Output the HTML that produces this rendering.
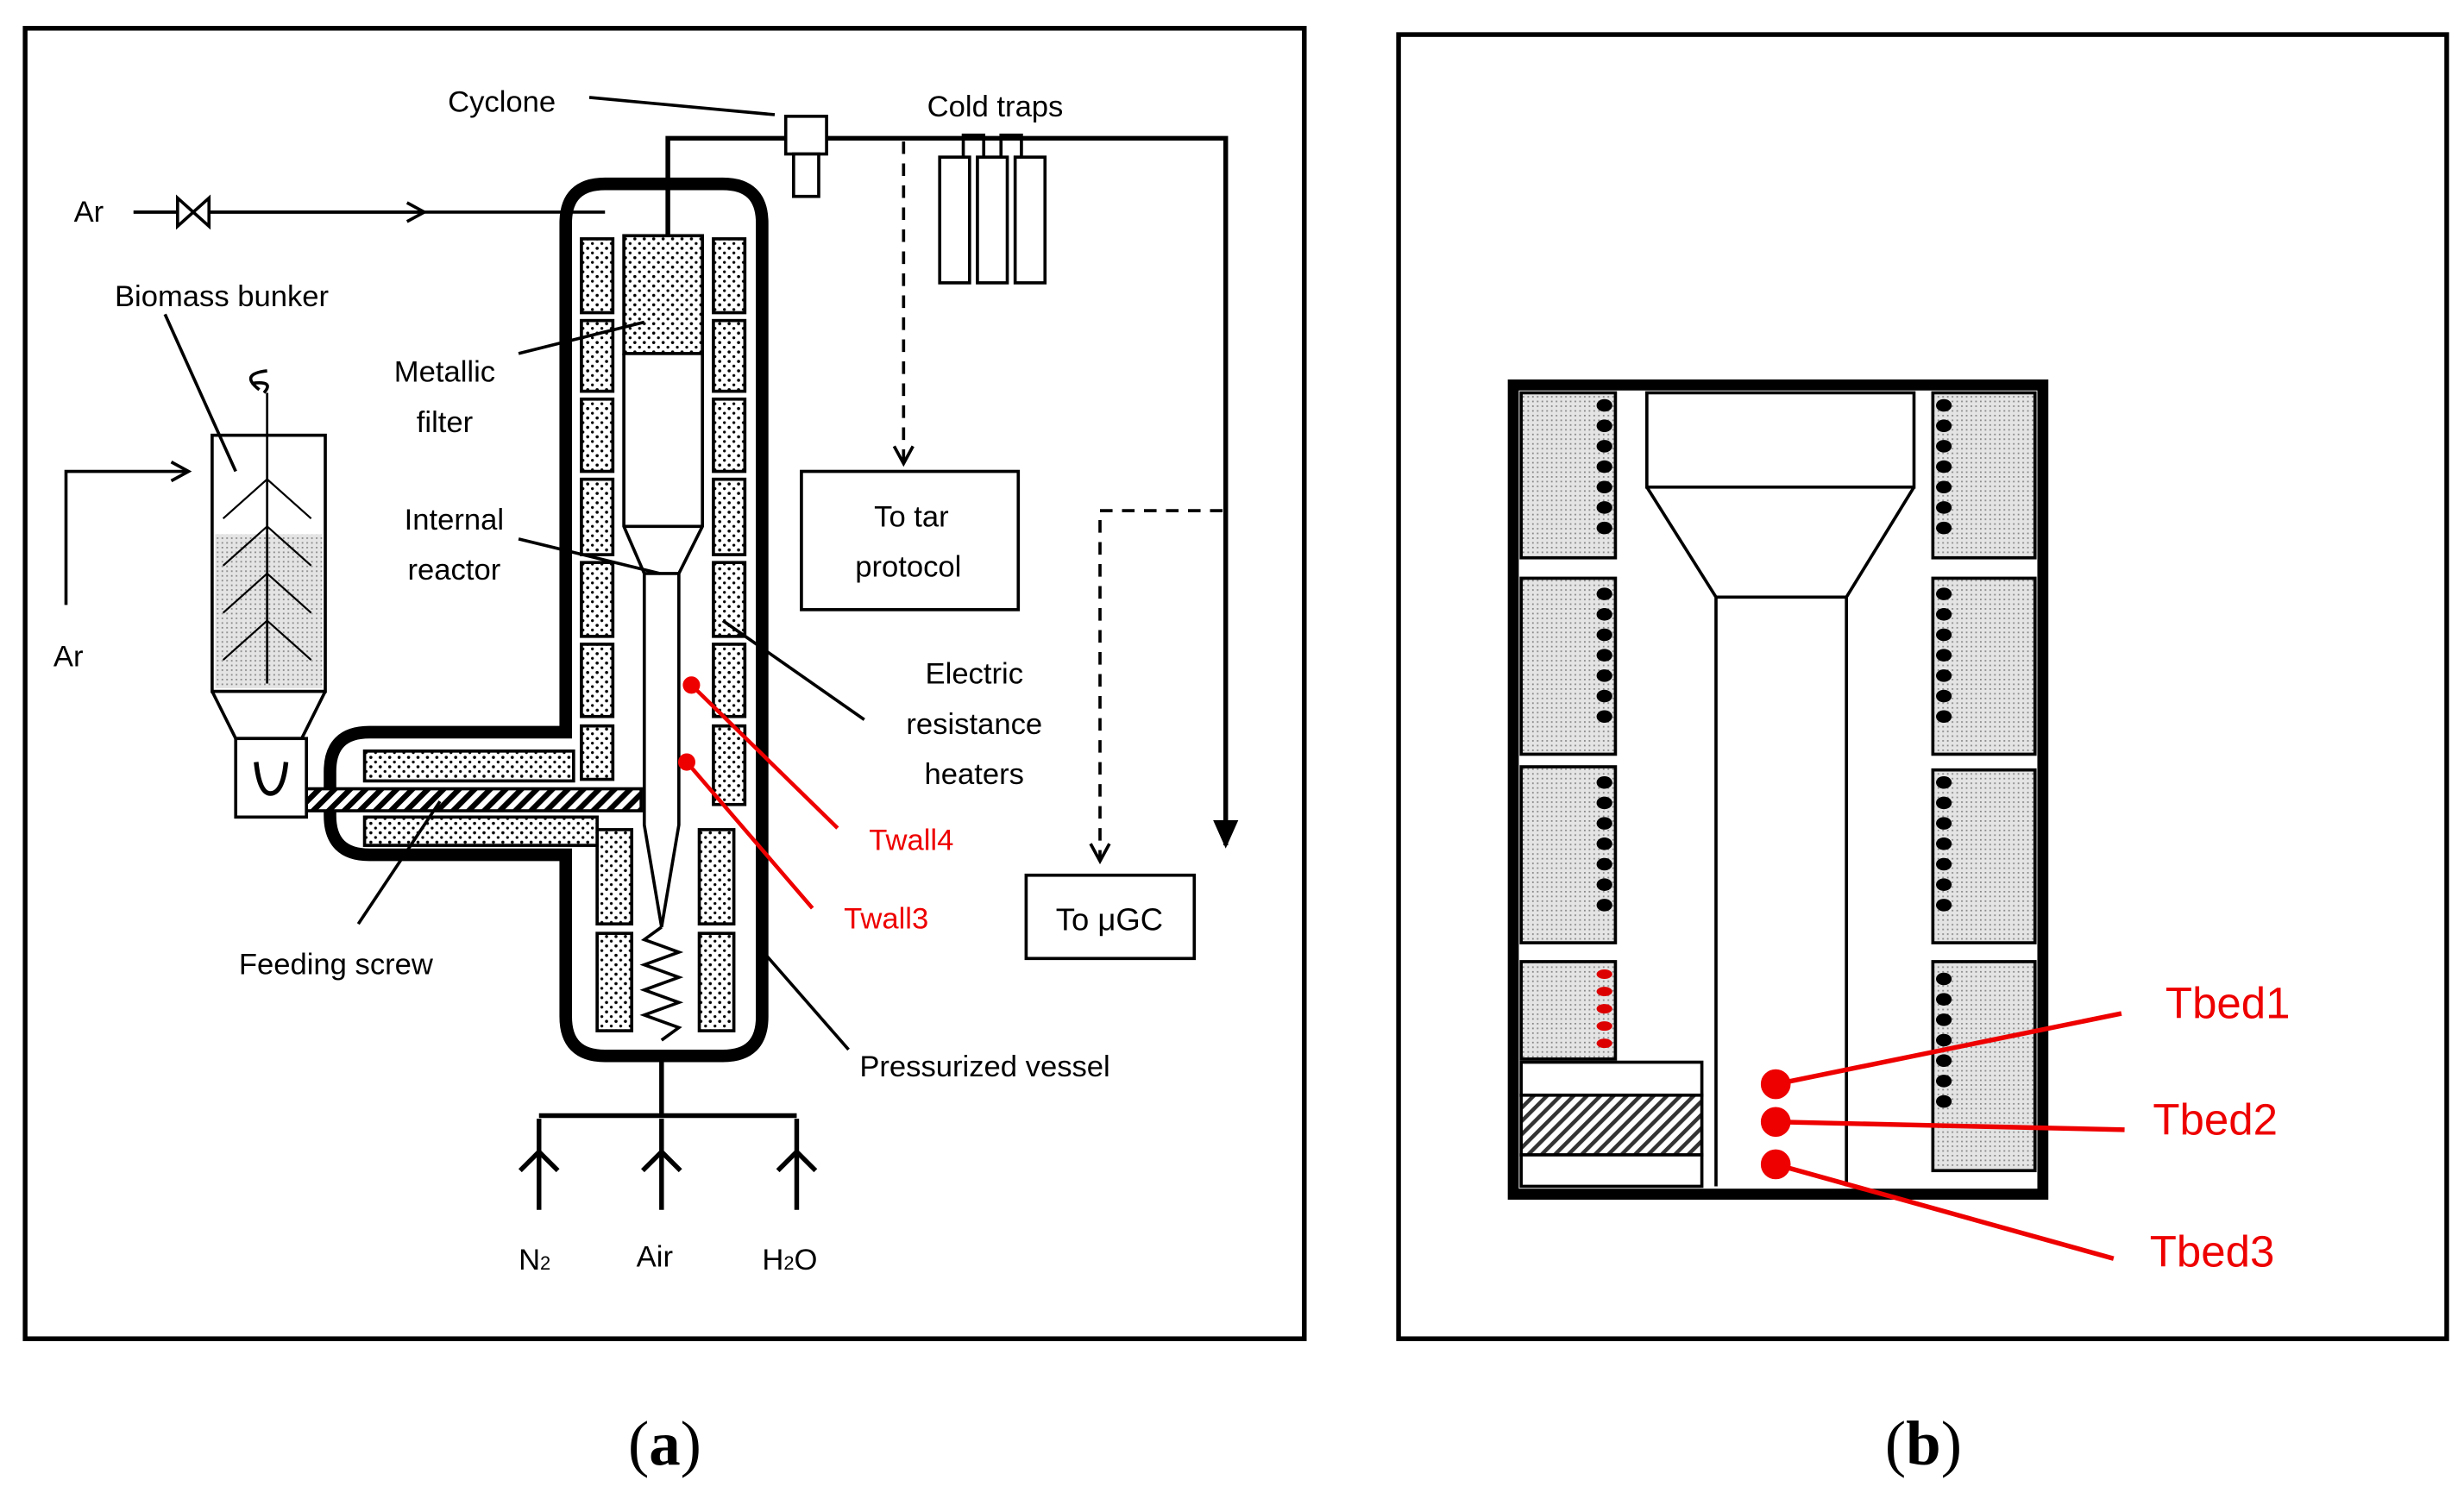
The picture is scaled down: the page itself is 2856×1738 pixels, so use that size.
<!DOCTYPE html>
<html><head><meta charset="utf-8"><style>
html,body{margin:0;padding:0;background:#fff}
svg{display:block}
text{font-family:"Liberation Sans",Arial,sans-serif}
</style></head><body>
<svg width="2856" height="1738" viewBox="0 0 1568 954" preserveAspectRatio="none" xmlns="http://www.w3.org/2000/svg">
<defs>
<pattern id="dots" width="6" height="6" patternUnits="userSpaceOnUse"><rect width="6" height="6" fill="#fff"/><circle cx="2" cy="2" r="1" fill="#000"/><circle cx="5" cy="5" r="0.9" fill="#000"/></pattern>
<pattern id="hatch" width="7" height="7" patternUnits="userSpaceOnUse" patternTransform="rotate(45)"><rect width="7" height="7" fill="#fff"/><rect width="3.5" height="7" fill="#000"/></pattern>
<pattern id="gray" width="3" height="3" patternUnits="userSpaceOnUse"><rect width="3" height="3" fill="#e4e4e4"/><rect width="1" height="1" fill="#888"/></pattern>
<pattern id="hatchb" width="6" height="6" patternUnits="userSpaceOnUse" patternTransform="rotate(45)"><rect width="6" height="6" fill="#fff"/><rect width="2.5" height="6" fill="#333"/></pattern>
<marker id="ah" markerWidth="14" markerHeight="14" refX="12" refY="7" orient="auto" markerUnits="userSpaceOnUse"><path d="M1,1 L12,7 L1,13" fill="none" stroke="#000" stroke-width="2"/></marker>
</defs>

<rect x="16" y="18" width="814" height="834" fill="none" stroke="#000" stroke-width="3"/>
<rect x="890" y="22" width="667" height="830" fill="none" stroke="#000" stroke-width="3"/>

<text x="423" y="932" font-size="40" text-anchor="middle" style="font-family:'Liberation Serif',serif">(<tspan font-weight="bold">a</tspan>)</text>
<text x="1224" y="932" font-size="40" text-anchor="middle" style="font-family:'Liberation Serif',serif">(<tspan font-weight="bold">b</tspan>)</text>

<path d="M385,117 H460 Q485,117 485,142 V647 Q485,672 460,672 H385 Q360,672 360,647 V544 H235 Q210,544 210,519 V491 Q210,466 235,466 H360 V142 Q360,117 385,117 Z" fill="none" stroke="#000" stroke-width="8"/>
<line x1="363" y1="476" x2="363" y2="535" stroke="#fff" stroke-width="6"/>

<g fill="url(#dots)" stroke="#000" stroke-width="2">
<rect x="370" y="152" width="20" height="47"/><rect x="370" y="204" width="20" height="45"/><rect x="370" y="254" width="20" height="46"/><rect x="370" y="305" width="20" height="48"/><rect x="370" y="358" width="20" height="47"/><rect x="370" y="410" width="20" height="46"/><rect x="370" y="462" width="20" height="34"/>
<rect x="454" y="152" width="20" height="47"/><rect x="454" y="204" width="20" height="45"/><rect x="454" y="254" width="20" height="46"/><rect x="454" y="305" width="20" height="48"/><rect x="454" y="358" width="20" height="47"/><rect x="454" y="410" width="20" height="46"/><rect x="454" y="462" width="20" height="50"/>
<rect x="380" y="528" width="22" height="60"/><rect x="380" y="594" width="22" height="62"/>
<rect x="445" y="528" width="22" height="60"/><rect x="445" y="594" width="22" height="62"/>
<rect x="232" y="478" width="133" height="19"/><rect x="232" y="520" width="148" height="18"/>
</g>

<rect x="397" y="150" width="50" height="75" fill="url(#dots)" stroke="#000" stroke-width="2"/>
<path d="M397,225 V335 L410,365 V525 L421,590 L432,525 V365 L447,335 V225" fill="none" stroke="#000" stroke-width="2"/>
<line x1="397" y1="335" x2="447" y2="335" stroke="#000" stroke-width="2"/>
<line x1="410" y1="365" x2="432" y2="365" stroke="#000" stroke-width="2"/>
<path d="M421,590 L410,598 L432,606 L410,614 L432,622 L410,630 L432,638 L410,646 L432,654 L421,662" fill="none" stroke="#000" stroke-width="2"/>

<rect x="195" y="502" width="213" height="14" fill="url(#hatch)" stroke="#000" stroke-width="2"/>

<rect x="135" y="277" width="72" height="163" fill="#fff" stroke="#000" stroke-width="2"/>
<rect x="137" y="340" width="68" height="98" fill="url(#gray)"/>
<path d="M135,440 L150,470 H192 L207,440" fill="none" stroke="#000" stroke-width="2"/>
<rect x="150" y="470" width="45" height="50" fill="#fff" stroke="#000" stroke-width="2"/>
<path d="M163,485 Q165,505 172,505 Q180,505 182,485" fill="none" stroke="#000" stroke-width="3"/>
<line x1="170" y1="250" x2="170" y2="435" stroke="#000" stroke-width="1.5"/>
<path d="M165,248 Q152,238 170,236 M160,244 Q175,242 168,250" fill="none" stroke="#000" stroke-width="2"/>
<g stroke="#000" stroke-width="1.2" fill="none"><path d="M142,330 L170,305 L198,330 M142,360 L170,335 L198,360 M142,390 L170,365 L198,390 M142,420 L170,395 L198,420"/></g>

<path d="M425,150 V88 H500" fill="none" stroke="#000" stroke-width="3"/>
<rect x="500" y="74" width="26" height="24" fill="#fff" stroke="#000" stroke-width="2"/>
<rect x="505" y="98" width="16" height="27" fill="#fff" stroke="#000" stroke-width="2"/>
<path d="M526,88 H780 V538" fill="none" stroke="#000" stroke-width="3"/>
<path d="M772,522 L780,540 L788,522 Z" fill="#000"/>
<g fill="#fff" stroke="#000" stroke-width="2">
<rect x="598" y="100" width="19" height="80"/><rect x="622" y="100" width="19" height="80"/><rect x="646" y="100" width="19" height="80"/>
</g>
<path d="M613,100 V86 H626 V100 M637,100 V86 H650 V100" fill="none" stroke="#000" stroke-width="2"/>
<line x1="575" y1="90" x2="575" y2="295" stroke="#000" stroke-width="2" stroke-dasharray="8,6" marker-end="url(#ah)"/>
<rect x="510" y="300" width="138" height="88" fill="#fff" stroke="#000" stroke-width="2"/>
<text x="580" y="335" font-size="19" text-anchor="middle">To tar</text>
<text x="578" y="367" font-size="19" text-anchor="middle">protocol</text>
<path d="M778,325 H700 V548" fill="none" stroke="#000" stroke-width="2" stroke-dasharray="8,6" marker-end="url(#ah)"/>
<rect x="653" y="557" width="107" height="53" fill="#fff" stroke="#000" stroke-width="2"/>
<text x="706" y="592" font-size="20" text-anchor="middle">To μGC</text>

<line x1="85" y1="135" x2="385" y2="135" stroke="#000" stroke-width="2"/>
<line x1="85" y1="135" x2="270" y2="135" stroke="#000" stroke-width="2" marker-end="url(#ah)"/>
<path d="M113,126 L133,144 V126 L113,144 Z" fill="#fff" stroke="#000" stroke-width="2"/>
<text x="47" y="141" font-size="19">Ar</text>
<path d="M42,385 V300 H120" fill="none" stroke="#000" stroke-width="2" marker-end="url(#ah)"/>
<text x="34" y="424" font-size="19">Ar</text>

<path d="M421,672 V710 M343,710 H507" fill="none" stroke="#000" stroke-width="3"/>
<g stroke="#000" stroke-width="3" fill="none">
<path d="M343,770 V712 M331,745 L343,733 L355,745"/>
<path d="M421,770 V712 M409,745 L421,733 L433,745"/>
<path d="M507,770 V712 M495,745 L507,733 L519,745"/>
</g>
<text x="330" y="808" font-size="19">N<tspan font-size="12">2</tspan></text>
<text x="405" y="806" font-size="19">Air</text>
<text x="485" y="808" font-size="19">H<tspan font-size="12">2</tspan>O</text>

<g stroke="#000" stroke-width="2" fill="none">
<path d="M375,62 L493,73"/><path d="M330,225 L410,205"/><path d="M330,343 L420,365"/>
<path d="M550,458 L460,395"/><path d="M540,668 L485,605"/><path d="M228,588 L280,510"/><path d="M105,200 L150,300"/>
</g>
<g font-size="19" fill="#000">
<text x="285" y="71">Cyclone</text>
<text x="590" y="74">Cold traps</text>
<text x="73" y="195">Biomass bunker</text>
<text x="283" y="243" text-anchor="middle">Metallic</text>
<text x="283" y="275" text-anchor="middle">filter</text>
<text x="289" y="337" text-anchor="middle">Internal</text>
<text x="289" y="369" text-anchor="middle">reactor</text>
<text x="620" y="435" text-anchor="middle">Electric</text>
<text x="620" y="467" text-anchor="middle">resistance</text>
<text x="620" y="499" text-anchor="middle">heaters</text>
<text x="152" y="620">Feeding screw</text>
<text x="547" y="685">Pressurized vessel</text>
</g>
<g fill="#e00" stroke="#e00">
<circle cx="440" cy="436" r="5"/><circle cx="437" cy="485" r="5"/>
<line x1="440" y1="436" x2="533" y2="527" stroke-width="2.5"/>
<line x1="437" y1="485" x2="517" y2="578" stroke-width="2.5"/>
</g>
<text x="553" y="541" font-size="19" fill="#e00">Twall4</text>
<text x="537" y="591" font-size="19" fill="#e00">Twall3</text>

<g stroke="#000" stroke-width="2" fill="url(#gray)">
<rect x="968" y="250" width="60" height="105"/><rect x="968" y="368" width="60" height="112"/><rect x="968" y="488" width="60" height="112"/><rect x="968" y="612" width="60" height="62"/>
<rect x="1230" y="250" width="65" height="105"/><rect x="1230" y="368" width="65" height="112"/><rect x="1230" y="490" width="65" height="110"/><rect x="1230" y="612" width="65" height="133"/>
</g>
<g fill="#000">
<g id="dl"><ellipse cx="1021" cy="258" rx="5" ry="4"/><ellipse cx="1021" cy="271" rx="5" ry="4"/><ellipse cx="1021" cy="284" rx="5" ry="4"/><ellipse cx="1021" cy="297" rx="5" ry="4"/><ellipse cx="1021" cy="310" rx="5" ry="4"/><ellipse cx="1021" cy="323" rx="5" ry="4"/><ellipse cx="1021" cy="336" rx="5" ry="4"/></g>
<use href="#dl" y="120"/><use href="#dl" y="240"/>
<use href="#dl" x="216" y="0"/><use href="#dl" x="216" y="120"/><use href="#dl" x="216" y="240"/><use href="#dl" x="216" y="365"/>
</g>
<g fill="#d00"><ellipse cx="1021" cy="620" rx="5" ry="3"/><ellipse cx="1021" cy="631" rx="5" ry="3"/><ellipse cx="1021" cy="642" rx="5" ry="3"/><ellipse cx="1021" cy="653" rx="5" ry="3"/><ellipse cx="1021" cy="664" rx="5" ry="3"/></g>
<rect x="1048" y="250" width="170" height="60" fill="#fff" stroke="#000" stroke-width="2"/>
<path d="M1048,310 L1092,380 V755 M1218,310 L1175,380 V755 M1092,380 H1175" fill="none" stroke="#000" stroke-width="2"/>
<rect x="968" y="676" width="115" height="21" fill="#fff" stroke="#000" stroke-width="2"/>
<rect x="968" y="697" width="115" height="38" fill="url(#hatchb)" stroke="#000" stroke-width="2"/>
<rect x="968" y="735" width="115" height="20" fill="#fff" stroke="#000" stroke-width="2"/>
<rect x="963" y="245" width="337" height="515" fill="none" stroke="#000" stroke-width="7"/>
<g fill="#e00" stroke="#e00" stroke-width="3">
<circle cx="1130" cy="690" r="8"/><circle cx="1130" cy="714" r="8"/><circle cx="1130" cy="741" r="8"/>
<line x1="1130" y1="690" x2="1350" y2="645"/><line x1="1130" y1="714" x2="1352" y2="719"/><line x1="1130" y1="741" x2="1345" y2="801"/>
</g>
<g font-size="28" fill="#e00"><text x="1378" y="648">Tbed1</text><text x="1370" y="722">Tbed2</text><text x="1368" y="806">Tbed3</text></g>
</svg>
</body></html>
